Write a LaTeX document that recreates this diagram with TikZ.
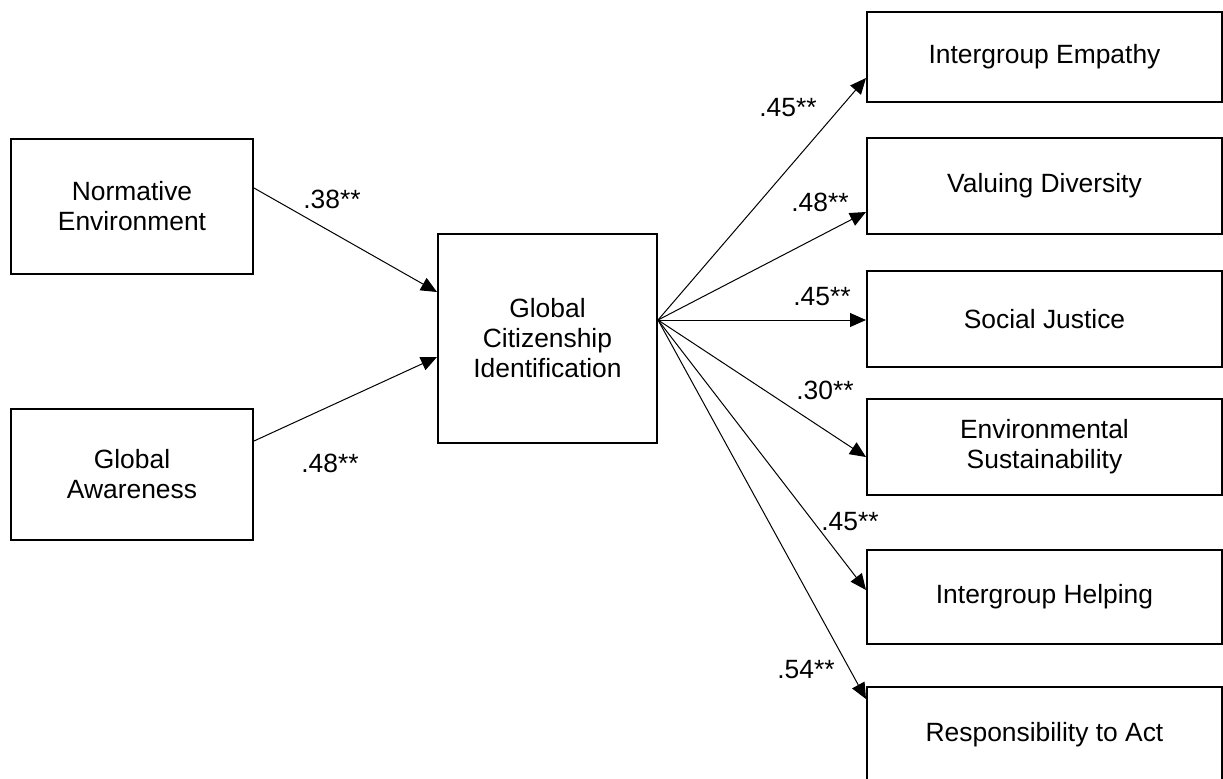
\documentclass[tikz,border=0pt]{standalone}
\usepackage{fontspec}
\setmainfont{Liberation Sans}
\usepackage{tikz}
\usetikzlibrary{arrows.meta,calc,positioning}

\begin{document}
\begin{tikzpicture}[->,>={Triangle[length=8pt,width=7pt]},x=0.5pt,y=-0.5pt,line width=0.5pt,
                    font=\fontsize{13.2}{15}\selectfont]

   \tikzstyle{var}=[draw,line width=1pt,align=center,inner sep=0pt]
   \tikzstyle{outcome}=[var,minimum width=177.5pt,minimum height=48pt]
   \tikzstyle{coef}=[draw=none,inner sep=0pt]

   % page frame, the last box runs off the bottom and right edges
   \clip (0,0) rectangle (1223,778);

    \node[var,minimum width=121pt,minimum height=67.5pt] at (132,206.5) (norm) {Normative\\Environment};
    \node[var,minimum width=121pt,minimum height=65.5pt] at (132,474.5) (aware) {Global\\Awareness};

    \node[var,minimum width=109.5pt,minimum height=104.5pt] at (547.5,338.5) (gci)
    {Global\\Citizenship\\Identification};

    \node[outcome,minimum height=45pt] at (1044.5,57) (emp) {Intergroup Empathy};
    \node[outcome] at (1044.5,186) (val) {Valuing Diversity};
    \node[outcome] at (1044.5,319) (just) {Social Justice};
    \node[outcome] at (1044.5,447) (env) {Environmental\\Sustainability};
    \node[outcome,minimum height=47pt] at (1044.5,597) (help) {Intergroup Helping};
    \node[outcome] at (1044.5,735) (resp) {Responsibility to Act};

    \coordinate (hub) at ($(gci.east)+(0,-18.5)$);

    \draw ($(norm.east)+(0,-18.5)$) -- ($(gci.west)+(0,-46.5)$);
    \draw ($(aware.east)+(0,-33.5)$) -- ($(gci.west)+(0,18.5)$);

    \draw (hub) -- ($(emp.west)+(0,21)$);
    \draw (hub) -- ($(val.west)+(0,26)$);
    \draw (hub) -- (hub -| just.west);
    \draw (hub) -- ($(env.west)+(0,10)$);
    \draw (hub) -- ($(help.west)+(0,-7)$);
    \draw (hub) -- ($(resp.north west)+(0,13)$);

    \node[coef] (c1) at (332,199) {.38**};
    \node[coef] (c2) at (330,463) {.48**};
    \node[coef] (c3) at (788,108) {.45**};
    \node[coef] (c4) at (820,202) {.48**};
    \node[coef] (c5) at (822,297) {.45**};
    \node[coef] (c6) at (825,390) {.30**};
    \node[coef] (c7) at (850,522) {.45**};
    \node[coef] (c8) at (806,670) {.54**};

\end{tikzpicture}
\end{document}
